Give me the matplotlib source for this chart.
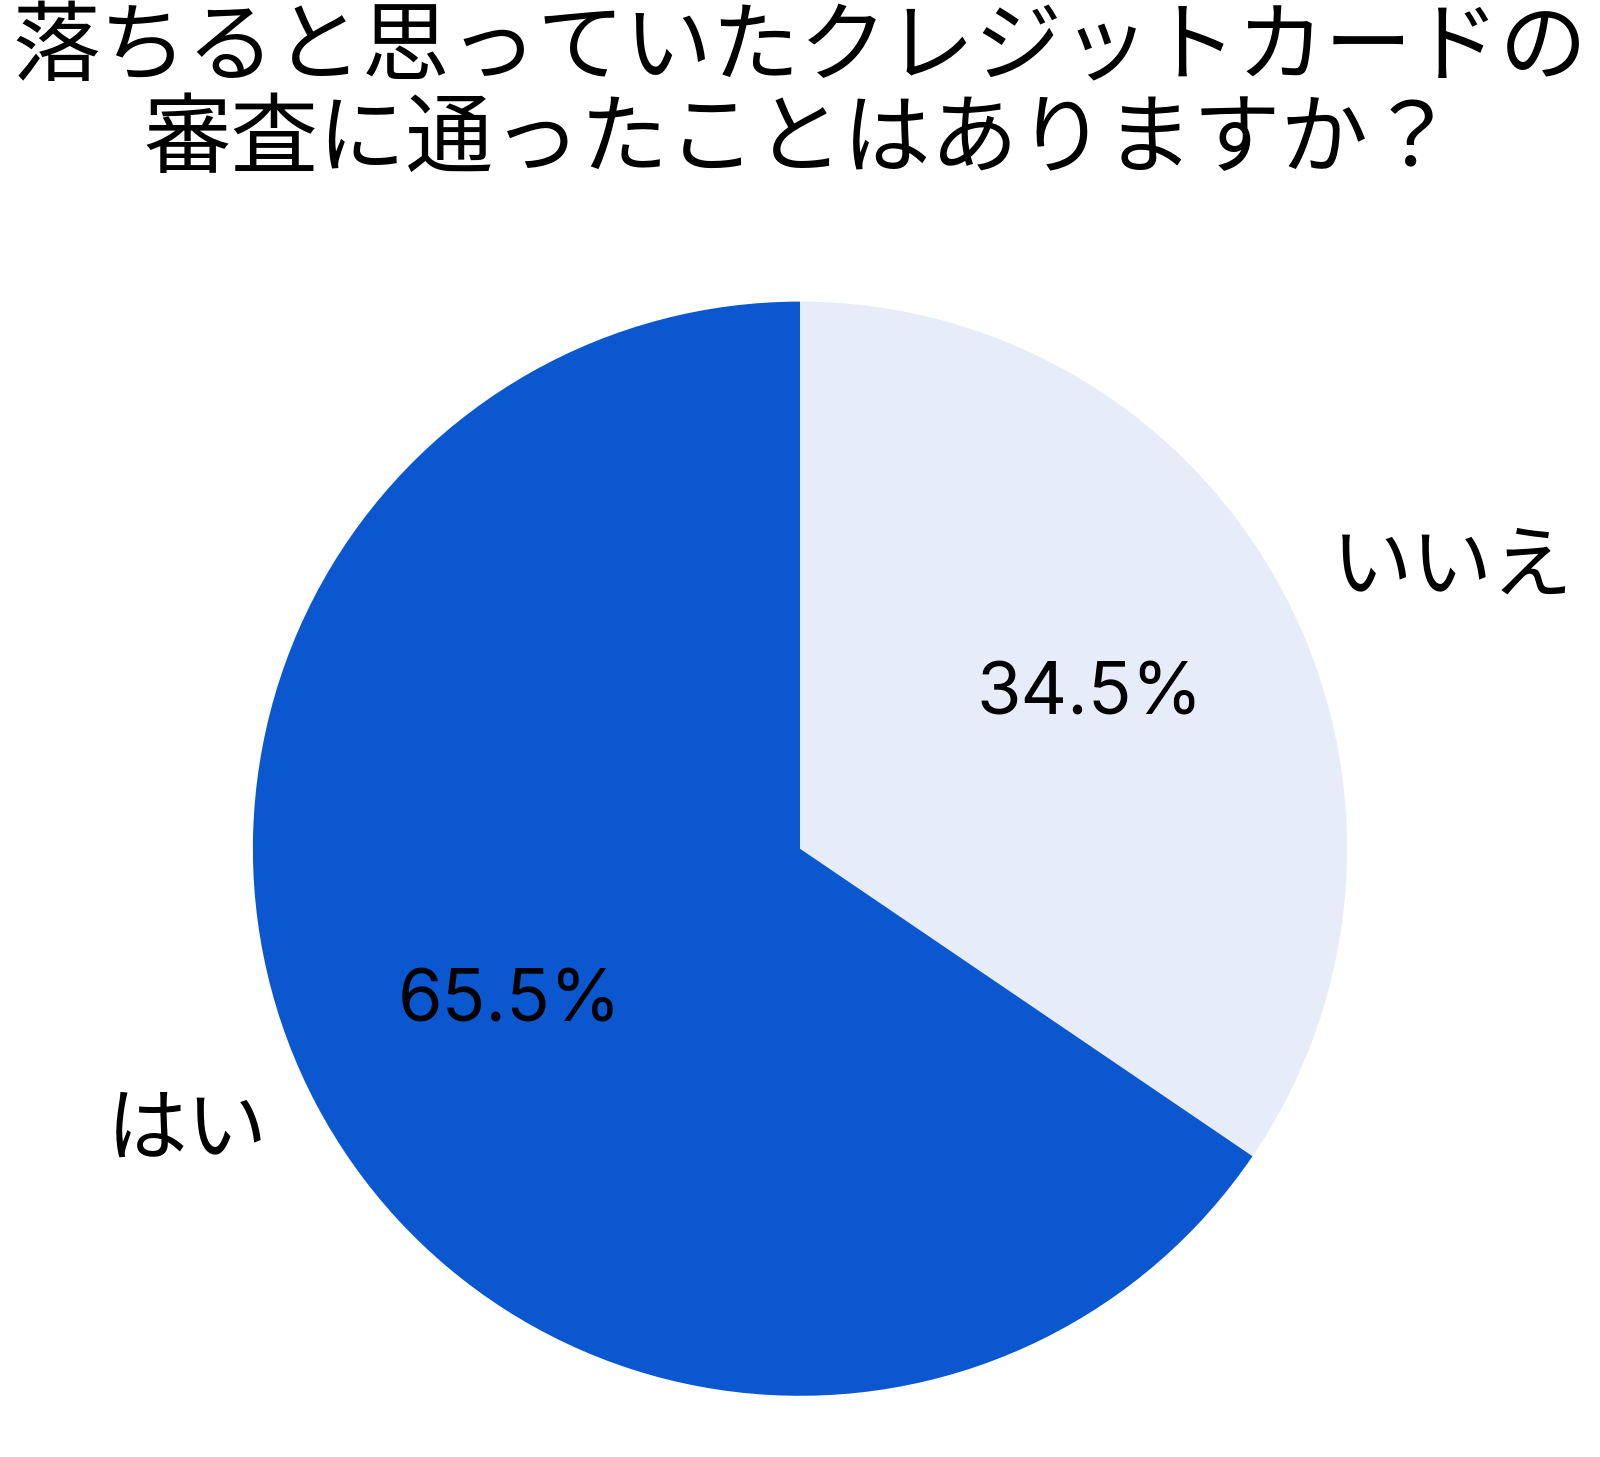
import matplotlib
matplotlib.use("Agg")
import matplotlib.pyplot as plt

plt.rcParams['font.family'] = ['Noto Sans CJK JP', 'DejaVu Sans']

# data
labels = ['いいえ', 'はい']
shares = [34.5, 65.5]
colors = ['#E7EDF8', '#0B57D0']
title = '落ちると思っていたクレジットカードの\n審査に通ったことはありますか？'

fig = plt.figure(figsize=(16, 14.57), dpi=100)
ax = fig.add_axes([0.158, 0.042, 0.684, 0.751])

wedges, texts, autotexts = ax.pie(
    shares, labels=labels, colors=colors, startangle=90, counterclock=False,
    autopct=lambda p: f'{p:.1f}%', pctdistance=0.6, labeldistance=1.1,
    textprops={'fontsize': 58, 'color': 'black'},
    wedgeprops={'linewidth': 0})
for t in autotexts:
    t.set_fontfamily(['Inter', 'DejaVu Sans'])
    t.set_fontsize(52)
ax.set_xlim(-1, 1)
ax.set_ylim(-1, 1)
ax.set_aspect('equal')

fig.text(0.5, 0.997, title, ha='center', va='top', fontsize=63, linespacing=1.02)

plt.savefig('out.png', dpi=100)
